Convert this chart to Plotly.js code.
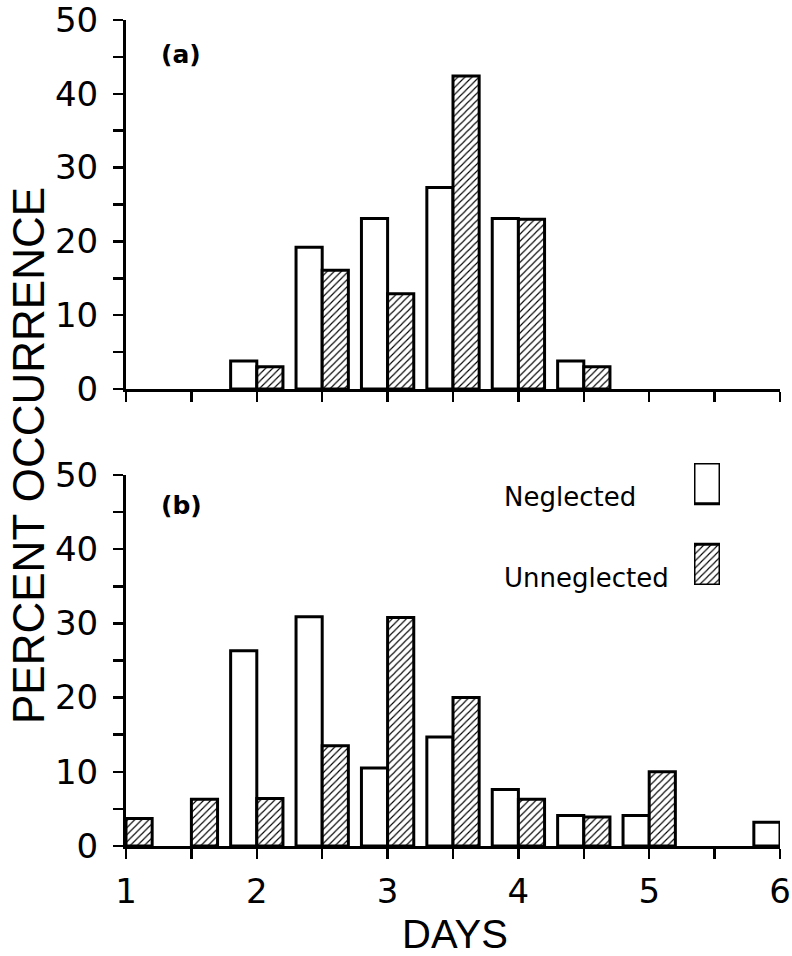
<!DOCTYPE html>
<html>
<head>
<meta charset="utf-8">
<script src="https://cdn.plot.ly/plotly-3.0.1.min.js"></script>
<style>html,body{margin:0;padding:0;background:#fff;}#chart{width:792px;height:956px;}</style>
</head>
<body>
<div id="chart"></div>
<script>
// Bin centres (days)
var bins = [1.0, 1.5, 2.0, 2.5, 3.0, 3.5, 4.0, 4.5, 5.0, 5.5, 6.0];
// Panel (a)
var aNeglected   = [0, 0, 3.8, 19.2, 23.1, 27.3, 23.1, 3.8, 0, 0, 0];
var aUnneglected = [0, 0, 3.0, 16.1, 12.9, 42.4, 23.0, 3.0, 0, 0, 0];
// Panel (b)
var bNeglected   = [0, 0, 26.3, 30.9, 10.5, 14.7, 7.6, 4.1, 4.1, 0, 3.2];
var bUnneglected = [3.7, 6.3, 6.4, 13.5, 30.8, 20.0, 6.3, 3.9, 10.0, 0, 0];
// Legend
var seriesNames = ["Neglected", "Unneglected"];
var legendSwatchBase = [2, 0];
var legendSwatchHeight = [1, 1];
var panelLabels = ["(a)", "(b)"];
var yTickVals = [0, 10, 20, 30, 40, 50];
var xTickVals = [1, 2, 3, 4, 5, 6];
var yTitle = "PERCENT OCCURRENCE";
var xTitle = "DAYS";

// zero-height bins are simply not drawn
function nz(arr) { return arr.map(function (v) { return v === 0 ? null : v; }); }

var lineW = 3;
var plainMarker = {color: "#ffffff", line: {color: "#000", width: lineW}};
var hatchMarker = {color: "#ffffff", line: {color: "#000", width: lineW},
  pattern: {shape: "/", fgcolor: "#000", bgcolor: "#ffffff", size: 5, solidity: 0.22}};

var traces = [
  {type: "bar", x: bins, y: nz(aNeglected), name: seriesNames[0], marker: plainMarker, xaxis: "x", yaxis: "y", hoverinfo: "skip"},
  {type: "bar", x: bins, y: nz(aUnneglected), name: seriesNames[1], marker: hatchMarker, xaxis: "x", yaxis: "y", hoverinfo: "skip"},
  {type: "bar", x: bins, y: nz(bNeglected), name: seriesNames[0], marker: plainMarker, xaxis: "x2", yaxis: "y2", hoverinfo: "skip"},
  {type: "bar", x: bins, y: nz(bUnneglected), name: seriesNames[1], marker: hatchMarker, xaxis: "x2", yaxis: "y2", hoverinfo: "skip"},
  // legend swatches
  {type: "bar", x: [0], y: [legendSwatchHeight[0]], base: [legendSwatchBase[0]], width: [1], offset: [-0.5], marker: plainMarker, xaxis: "x3", yaxis: "y3", hoverinfo: "skip"},
  {type: "bar", x: [0], y: [legendSwatchHeight[1]], base: [legendSwatchBase[1]], width: [1], offset: [-0.5], marker: hatchMarker, xaxis: "x3", yaxis: "y3", hoverinfo: "skip"}
];

var tickFont = {family: "DejaVu Sans", size: 34, color: "#000"};
function yAx(domain) {
  return {domain: domain, range: [0, 50], tickvals: yTickVals, ticktext: yTickVals.map(String),
    ticks: "outside", ticklen: 10, tickwidth: 2.5, tickcolor: "#000",
    minor: {dtick: 5, tick0: 0, ticks: "outside", ticklen: 10, tickwidth: 2.5, tickcolor: "#000", showgrid: false},
    showline: true, linewidth: lineW, linecolor: "#000", showgrid: false, zeroline: false,
    tickfont: tickFont, ticklabelstandoff: 8, ticklabeloverflow: "allow", fixedrange: true};
}
function xAx(anchor, showLabels) {
  return {domain: [0, 1], range: [1, 6], anchor: anchor, tickvals: xTickVals, ticktext: xTickVals.map(String),
    showticklabels: showLabels, ticks: "outside", ticklen: 10, tickwidth: 2.5, tickcolor: "#000",
    minor: {dtick: 0.5, tick0: 1, ticks: "outside", ticklen: 10, tickwidth: 2.5, tickcolor: "#000", showgrid: false},
    showline: true, linewidth: lineW, linecolor: "#000", showgrid: false, zeroline: false,
    tickfont: {family: "DejaVu Sans", size: 34, color: "#000"}, ticklabelstandoff: 3, ticklabeloverflow: "allow", fixedrange: true};
}

var layout = {
  width: 792, height: 956,
  margin: {l: 126, r: 12, t: 20, b: 110},
  paper_bgcolor: "#fff", plot_bgcolor: "rgba(0,0,0,0)",
  showlegend: false,
  barmode: "group", bargap: 0.2, bargroupgap: 0,
  xaxis: xAx("y", false),
  yaxis: yAx([0.5533, 1.0]),
  xaxis2: xAx("y2", true),
  yaxis2: yAx([0, 0.4492]),
  xaxis3: {domain: [0.8685, 0.9083], range: [-0.5, 0.5], anchor: "y3", visible: false, fixedrange: true},
  yaxis3: {domain: [0.316, 0.4637], range: [0, 3], anchor: "x3", visible: false, fixedrange: true},
  annotations: [
    {text: panelLabels[0], xref: "paper", yref: "paper", x: 0.0841, y: 0.9588, xanchor: "center", yanchor: "middle", showarrow: false,
      font: {family: "DejaVu Sans", size: 25, color: "#000", weight: "bold"}},
    {text: panelLabels[1], xref: "paper", yref: "paper", x: 0.0841, y: 0.4128, xanchor: "center", yanchor: "middle", showarrow: false,
      font: {family: "DejaVu Sans", size: 25, color: "#000", weight: "bold"}},
    {text: seriesNames[0], xref: "paper", yref: "paper", x: 0.5749, y: 0.4225, xanchor: "left", yanchor: "middle", showarrow: false,
      font: {family: "DejaVu Sans", size: 26, color: "#000"}},
    {text: seriesNames[1], xref: "paper", yref: "paper", x: 0.5749, y: 0.3245, xanchor: "left", yanchor: "middle", showarrow: false,
      font: {family: "DejaVu Sans", size: 26, color: "#000"}},
    {text: yTitle, xref: "paper", yref: "paper", x: -0.1483, y: 0.4722, xanchor: "center", yanchor: "middle", textangle: -90, showarrow: false,
      font: {family: "Liberation Sans", size: 44, color: "#000"}},
    {text: xTitle, xref: "paper", yref: "paper", x: 0.503, y: -0.1065, xanchor: "center", yanchor: "middle", showarrow: false,
      font: {family: "Liberation Sans", size: 40, color: "#000"}}
  ]
};

Plotly.newPlot("chart", traces, layout, {displayModeBar: false, staticPlot: true});
</script>
</body>
</html>
